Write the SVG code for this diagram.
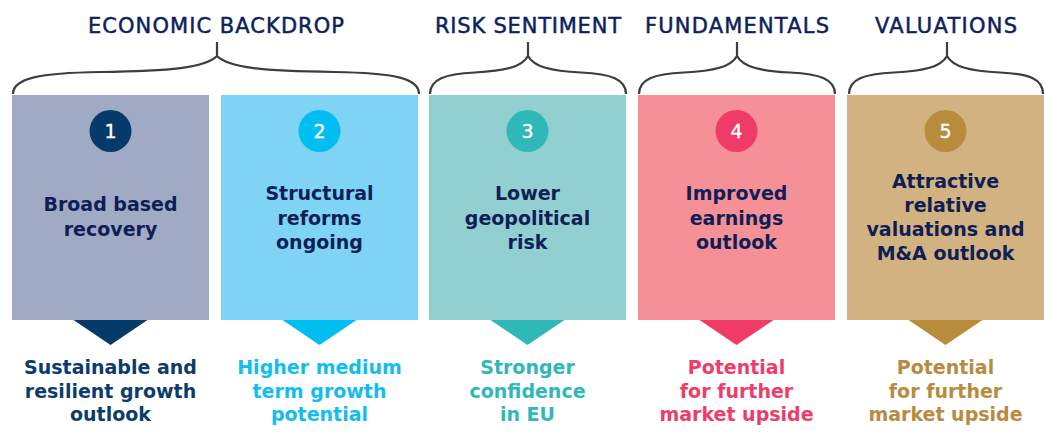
<svg xmlns="http://www.w3.org/2000/svg" width="1045" height="443" viewBox="0 0 1045 443">
<style>
  .hd{font-family:"DejaVu Sans",sans-serif;font-size:21px;fill:#0e1f5b;stroke:#0e1f5b;stroke-width:0.5;text-anchor:middle}
  .bt{font-family:"DejaVu Sans",sans-serif;font-size:19px;font-weight:bold;fill:#0f1e55;text-anchor:middle}
  .num{font-family:"DejaVu Sans",sans-serif;font-size:19px;fill:#ffffff;stroke:#ffffff;stroke-width:0.4;text-anchor:middle}
  .ot{font-family:"DejaVu Sans",sans-serif;font-size:19px;font-weight:bold;text-anchor:middle}
  .brace{fill:none;stroke:#3d3d3d;stroke-width:2.2;stroke-linejoin:miter}
</style>
<rect width="1045" height="443" fill="#ffffff"/>

<g id="headings">
  <text class="hd" x="216" y="32.5" textLength="256" lengthAdjust="spacing">ECONOMIC BACKDROP</text>
  <text class="hd" x="528" y="32.5" textLength="186" lengthAdjust="spacing">RISK SENTIMENT</text>
  <text class="hd" x="737" y="32.5" textLength="184" lengthAdjust="spacing">FUNDAMENTALS</text>
  <text class="hd" x="946" y="32.5" textLength="142" lengthAdjust="spacing">VALUATIONS</text>
</g>

<g id="connectors">
  <path class="brace" d="M13,94 C13,78 40,73 100,72 C170,71 205,68 217,56 V42 M217,56 C229,68 264,71 334,72 C394,73 419,78 419,94"/>
  <path class="brace" d="M430,94 C430,79 445,74 475,72.5 C505,71 522,67 528,56 V42 M528,56 C534,67 551,71 581,72.5 C611,74 626,79 626,94"/>
  <path class="brace" d="M639,94 C639,79 654,74 684,72.5 C714,71 731,67 737,56 V42 M737,56 C743,67 760,71 790,72.5 C820,74 835,79 835,94"/>
  <path class="brace" d="M849,94 C849,79 864,74 894,72.5 C924,71 941,67 947,56 V42 M947,56 C953,67 970,71 1000,72.5 C1030,74 1043,79 1043,94"/>
</g>

<g id="node1">
  <rect x="12" y="95" width="197" height="225" fill="#a0aac4"/>
  <circle cx="110.5" cy="131" r="21" fill="#063a68"/>
  <text class="num" x="110.5" y="138">1</text>
  <text class="bt" x="110.5" y="211">Broad based</text>
  <text class="bt" x="110.5" y="236">recovery</text>
  <polygon points="73.5,320 147.5,320 110.5,345" fill="#063a68"/>
  <text class="ot" x="110.5" y="374" fill="#0c3c6c">Sustainable and</text>
  <text class="ot" x="110.5" y="397.5" fill="#0c3c6c">resilient growth</text>
  <text class="ot" x="110.5" y="421" fill="#0c3c6c">outlook</text>
</g>

<g id="node2">
  <rect x="221" y="95" width="197" height="225" fill="#7fd3f5"/>
  <circle cx="319.5" cy="131" r="21" fill="#00bdf2"/>
  <text class="num" x="319.5" y="138">2</text>
  <text class="bt" x="319.5" y="200">Structural</text>
  <text class="bt" x="319.5" y="224.5">reforms</text>
  <text class="bt" x="319.5" y="249">ongoing</text>
  <polygon points="282.5,320 356.5,320 319.5,345" fill="#00bdf2"/>
  <text class="ot" x="319.5" y="374" fill="#12bdf0">Higher medium</text>
  <text class="ot" x="319.5" y="397.5" fill="#12bdf0">term growth</text>
  <text class="ot" x="319.5" y="421" fill="#12bdf0">potential</text>
</g>

<g id="node3">
  <rect x="429" y="95" width="197" height="225" fill="#92cfd1"/>
  <circle cx="527.5" cy="131" r="21" fill="#2fb8b8"/>
  <text class="num" x="527.5" y="138">3</text>
  <text class="bt" x="527.5" y="200">Lower</text>
  <text class="bt" x="527.5" y="224.5">geopolitical</text>
  <text class="bt" x="527.5" y="249">risk</text>
  <polygon points="490.5,320 564.5,320 527.5,345" fill="#2fb8b8"/>
  <text class="ot" x="527.5" y="374" fill="#30b7b7">Stronger</text>
  <text class="ot" x="527.5" y="397.5" fill="#30b7b7">confidence</text>
  <text class="ot" x="527.5" y="421" fill="#30b7b7">in EU</text>
</g>

<g id="node4">
  <rect x="638" y="95" width="197" height="225" fill="#f59097"/>
  <circle cx="736.5" cy="131" r="21" fill="#ef3b66"/>
  <text class="num" x="736.5" y="138">4</text>
  <text class="bt" x="736.5" y="200">Improved</text>
  <text class="bt" x="736.5" y="224.5">earnings</text>
  <text class="bt" x="736.5" y="249">outlook</text>
  <polygon points="699.5,320 773.5,320 736.5,345" fill="#ef3b66"/>
  <text class="ot" x="736.5" y="374" fill="#ee3d68">Potential</text>
  <text class="ot" x="736.5" y="397.5" fill="#ee3d68">for further</text>
  <text class="ot" x="736.5" y="421" fill="#ee3d68">market upside</text>
</g>

<g id="node5">
  <rect x="847" y="95" width="197" height="225" fill="#d2b280"/>
  <circle cx="945.5" cy="131" r="21" fill="#b88b3d"/>
  <text class="num" x="945.5" y="138">5</text>
  <text class="bt" x="945.5" y="187.5">Attractive</text>
  <text class="bt" x="945.5" y="211.5">relative</text>
  <text class="bt" x="945.5" y="235.5">valuations and</text>
  <text class="bt" x="945.5" y="260">M&amp;A outlook</text>
  <polygon points="908.5,320 982.5,320 945.5,345" fill="#b88b3d"/>
  <text class="ot" x="945.5" y="374" fill="#b98a3f">Potential</text>
  <text class="ot" x="945.5" y="397.5" fill="#b98a3f">for further</text>
  <text class="ot" x="945.5" y="421" fill="#b98a3f">market upside</text>
</g>
</svg>
